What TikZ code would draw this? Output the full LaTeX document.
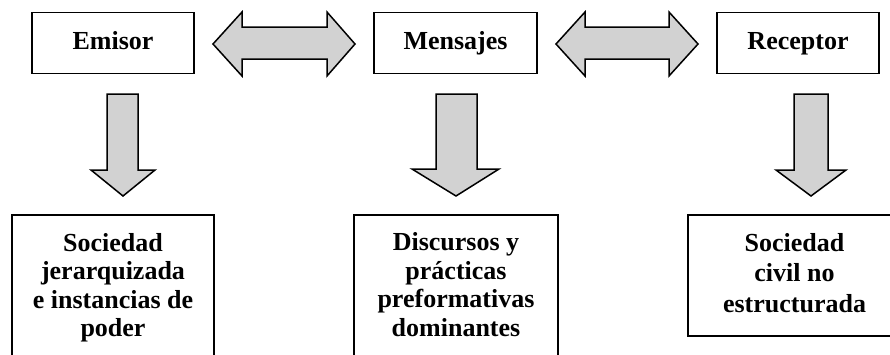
\documentclass[tikz,border=0pt]{standalone}
\usepackage{fontspec}
\setmainfont{Liberation Serif}
\begin{document}
\begin{tikzpicture}[x=1pt,y=-1pt,
  topbox/.style={draw, line width=1.8pt, minimum width=162pt, minimum height=61pt, inner sep=0pt,
    text height=17pt, text depth=5pt,
    font=\fontsize{26}{29.5}\selectfont\bfseries},
  botbox/.style={draw, line width=1.8pt, inner sep=0pt, align=center,
    font=\fontsize{26}{28.5}\selectfont\bfseries},
  blockarrow/.style={draw, line width=1.5pt, fill=gray!35, line join=miter}]
\useasboundingbox (0,0) rectangle (890,354);
\fill[white] (0,0) rectangle (890,354);
% top boxes
\node[topbox] (emisor) at (113,43) {Emisor};
\node[topbox, minimum width=163pt] (mensajes) at (455.5,43) {Mensajes};
\node[topbox] (receptor) at (798,43) {Receptor};
% bottom boxes
\node[botbox, minimum width=202pt, minimum height=145pt] (b1) at (113,287.5)
  {Sociedad\\jerarquizada\\e instancias de\\poder};
\node[botbox, minimum width=204pt, minimum height=145pt] (b2) at (456,287.5)
  {Discursos y\\prácticas\\preformativas\\dominantes\rule[-6pt]{0pt}{0pt}};
\node[botbox, minimum width=213pt, minimum height=121pt,
  font=\fontsize{26}{30.5}\selectfont\bfseries] (b3) at (794.5,275.5)
  {Sociedad\\civil no\\estructurada\rule[-6pt]{0pt}{0pt}};
% double arrows
\draw[blockarrow] (213,44) -- (242,12) -- (242,27) -- (327,27) -- (327,12) -- (355,44)
  -- (327,76) -- (327,59) -- (242,59) -- (242,76) -- cycle;
\draw[blockarrow] (556,44) -- (585,12) -- (585,27) -- (669,27) -- (669,12) -- (698,44)
  -- (669,76) -- (669,59) -- (585,59) -- (585,76) -- cycle;
% down arrows
\draw[blockarrow] (107,94) -- (138,94) -- (138,170) -- (155,170) -- (123,196)
  -- (91,170) -- (107,170) -- cycle;
\draw[blockarrow] (436,94) -- (477,94) -- (477,169) -- (499,169) -- (456,196)
  -- (412,169) -- (436,169) -- cycle;
\draw[blockarrow] (794,94) -- (828,94) -- (828,170) -- (846,170) -- (811,196)
  -- (776,170) -- (794,170) -- cycle;
\end{tikzpicture}
\end{document}
